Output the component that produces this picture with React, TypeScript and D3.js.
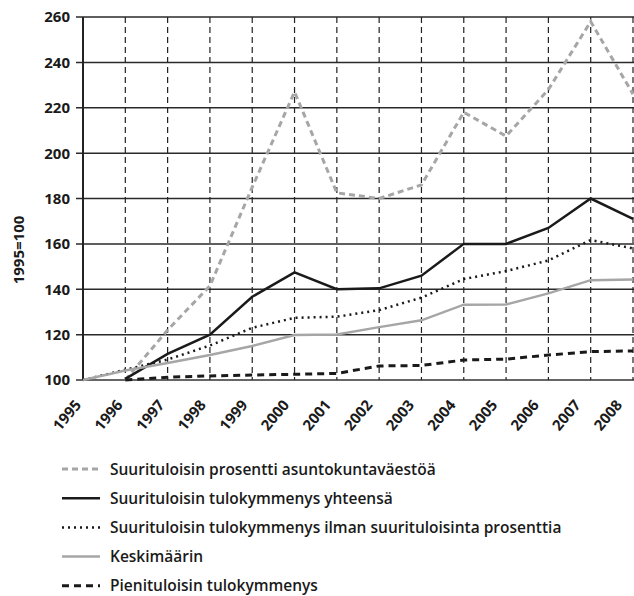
import React from "react";
import * as d3 from "d3";

const years = [1995, 1996, 1997, 1998, 1999, 2000, 2001, 2002, 2003, 2004, 2005, 2006, 2007, 2008];
const yTicks = [100, 120, 140, 160, 180, 200, 220, 240, 260];

// Index 1995=100
const prosentti = [null, 100, 122, 141.5, 185, 227, 182.5, 180, 186, 218, 207.5, 228, 258, 226];
const yhteensa = [null, 100.5, 111.5, 120, 136.7, 147.4, 140, 140.4, 146, 160, 160, 167, 180, 171];
const ilman = [100, 104.5, 109, 115.2, 123, 127.4, 127.9, 130.8, 136.3, 144.5, 148, 152.7, 161.7, 158];
const keskimaarin = [100, 104.2, 107.5, 111, 115, 119.8, 120.1, 123.3, 126.3, 133.2, 133.3, 138.2, 144, 144.3];
const pienituloisin = [null, 100, 101.2, 101.8, 102.2, 102.5, 102.9, 106.2, 106.4, 108.8, 109.2, 111, 112.5, 112.8];

const seriesNames = [
  "Suurituloisin prosentti asuntokuntaväestöä",
  "Suurituloisin tulokymmenys yhteensä",
  "Suurituloisin tulokymmenys ilman suurituloisinta prosenttia",
  "Keskimäärin",
  "Pienituloisin tulokymmenys",
];

const styles = [
  { stroke: "#a6a6a6", width: 3, dash: "6,4" },
  { stroke: "#1a1a1a", width: 2.5, dash: "" },
  { stroke: "#1a1a1a", width: 2.5, dash: "2,4" },
  { stroke: "#a6a6a6", width: 2.5, dash: "" },
  { stroke: "#1a1a1a", width: 3, dash: "7,5" },
];

const FONT = "'Open Sans', 'DejaVu Sans', sans-serif";

export default function App() {
  const W = 634;
  const H = 596;
  const x = d3.scaleLinear().domain([1995, 2008]).range([83, 633]);
  const y = d3.scaleLinear().domain([100, 260]).range([380, 17]);
  // label positions run slightly tighter than the grid in the original
  const xLabel = d3.scaleLinear().domain([1995, 2008]).range([82, 623]);

  const allSeries = [prosentti, yhteensa, ilman, keskimaarin, pienituloisin];

  const line = d3
    .line<number | null>()
    .defined((d) => d !== null)
    .x((d, i) => x(years[i]))
    .y((d) => y(d as number));

  return (
    <svg width={W} height={H} style={{ position: "absolute", left: 0, top: 0 }} fontFamily={FONT}>
      <rect width={W} height={H} fill="#fff" />

      {/* horizontal gridlines */}
      {yTicks.map((t) => (
        <g key={t}>
          <line
            x1={76}
            x2={W}
            y1={y(t)}
            y2={y(t)}
            stroke={t === 100 ? "#666" : "#2a2a2a"}
            strokeWidth={t === 100 ? 2 : 1.5}
          />
          <text x={70} y={y(t)} dy="0.36em" textAnchor="end" fontSize={15} fontWeight={700} fill="#1a1a1a">
            {t}
          </text>
        </g>
      ))}

      {/* vertical dashed year lines */}
      {years.slice(1).map((yr) => (
        <line
          key={yr}
          x1={x(yr)}
          x2={x(yr)}
          y1={y(260)}
          y2={y(100)}
          stroke="#222"
          strokeWidth={1.2}
          strokeDasharray="6,4"
        />
      ))}

      {/* y axis */}
      <line x1={x(1995)} x2={x(1995)} y1={y(260)} y2={y(100)} stroke="#222" strokeWidth={2} />

      {/* series */}
      {allSeries.map((s, i) => (
        <path
          key={i}
          d={line(s) || ""}
          fill="none"
          stroke={styles[i].stroke}
          strokeWidth={styles[i].width}
          strokeDasharray={styles[i].dash}
          strokeLinejoin="miter"
        />
      ))}

      {/* x labels, rotated */}
      {years.map((yr) => (
        <g key={yr} transform={`translate(${xLabel(yr) - 4},${402})`}>
          <text
            transform="rotate(-50)"
            textAnchor="end"
            dy="0.35em"
            fontSize={15}
            fontWeight={700}
            fill="#1a1a1a"
          >
            {yr}
          </text>
        </g>
      ))}

      {/* y title */}
      <g transform="translate(19,250)">
        <text transform="rotate(-90)" textAnchor="middle" dy="0.36em" fontSize={15} fontWeight={700} fill="#1a1a1a">
          1995=100
        </text>
      </g>

      {/* legend */}
      {seriesNames.map((name, i) => {
        const ly = 469 + i * 29.2;
        return (
          <g key={name}>
            <line
              x1={62}
              x2={100}
              y1={ly}
              y2={ly}
              stroke={styles[i].stroke}
              strokeWidth={styles[i].width}
              strokeDasharray={styles[i].dash}
            />
            <text x={110} y={ly} dy="0.36em" fontSize={15.5} fontWeight={600} fill="#1a1a1a">
              {name}
            </text>
          </g>
        );
      })}
    </svg>
  );
}
